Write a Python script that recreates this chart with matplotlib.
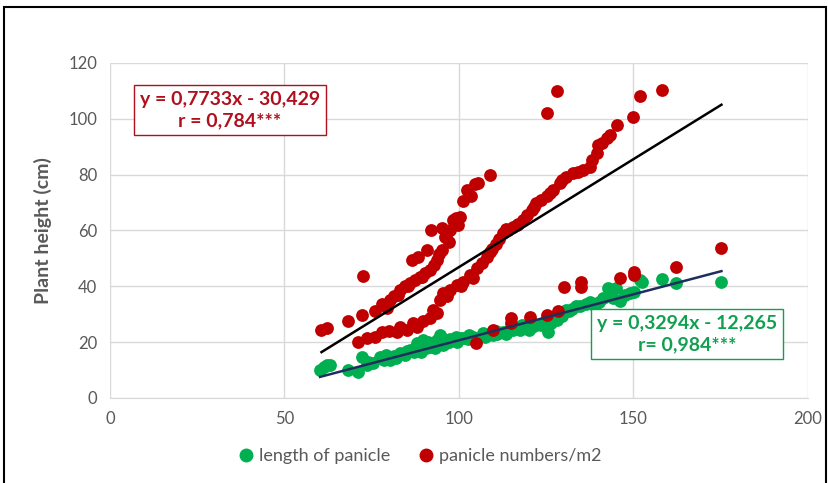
import matplotlib
matplotlib.use("Agg")
import matplotlib.pyplot as plt
from matplotlib.lines import Line2D
from matplotlib.patches import Rectangle
import numpy as np

plt.rcParams['font.family'] = ['Lato', 'DejaVu Sans']

# ---- data ----
green_x = [60.2, 61.2, 62.1, 68.3, 71.2, 72.1, 73.5, 75.5, 77.4, 78.5, 80.2, 81.5, 83.1, 84.5, 86.0,
           87.0, 87.9, 88.5, 89.8, 90.5, 91.7, 92.5, 93.6, 94.6, 95.5, 96.4, 97.5, 98.4, 99.5, 100.3,
           101.2, 102.5, 104.1, 105.5, 106.9, 108.3, 109.8, 111.0, 112.7, 114.0, 115.6, 117.5, 119.4,
           121.0, 122.2, 123.5, 125.1, 125.6, 126.5, 128.0, 129.5, 130.8, 132.5, 134.7, 136.5, 138.5,
           140.0, 141.3, 142.8, 143.3, 145.1, 146.1, 147.5, 150.2, 151.9, 152.3, 158.1, 162.2, 175.2,
           63.0, 74.0, 79.0, 82.0, 85.0, 88.0, 89.0, 91.0, 93.0, 95.0, 97.0, 99.0, 103.0, 107.5,
           110.5, 113.5, 118.0, 120.0, 124.0, 127.0, 131.5, 133.5, 137.5, 139.0, 144.0, 149.0]
green_y = [10.0, 11.0, 11.8, 10.0, 9.4, 14.8, 12.0, 12.4, 14.8, 13.5, 13.6, 15.0, 16.0, 15.5, 17.2,
           16.5, 19.6, 17.5, 20.8, 18.0, 18.4, 19.5, 20.8, 22.6, 19.0, 19.6, 21.0, 20.8, 20.0, 21.5,
           21.4, 21.0, 22.0, 21.5, 23.2, 22.5, 22.6, 23.0, 23.8, 24.0, 24.4, 24.5, 25.0,
           25.5, 26.2, 26.0, 25.0, 23.8, 27.0, 28.0, 29.5, 31.5, 32.0, 33.0, 33.5, 33.6,
           34.5, 35.7, 39.3, 37.0, 39.3, 34.6, 37.0, 38.1, 42.3, 41.7, 42.7, 41.1, 41.7,
           12.0, 13.0, 15.5, 14.5, 17.0, 18.5, 16.5, 20.0, 18.0, 21.5, 20.0, 21.8, 22.5, 22.0,
           24.0, 23.0, 26.0, 24.5, 27.0, 29.0, 31.0, 32.8, 34.5, 33.0, 36.0, 37.5]

red_x = [60.6, 62.1, 68.3, 72.1, 72.4, 75.9, 79.3, 80.2, 81.5, 83.1, 84.5, 86.0, 86.4, 87.5, 88.3,
         88.8, 90.2, 90.7, 91.7, 92.1, 92.8, 93.6, 95.0, 95.0, 96.0, 96.4, 97.4, 98.4, 99.0, 100.3,
         101.2, 102.2, 104.5, 105.5, 108.9,
         78.0, 82.5, 85.5, 89.5, 94.2, 97.0, 99.8, 103.5,
         71.2, 73.5, 75.9, 77.8, 80.0, 82.1, 83.1, 85.0, 86.9, 87.9, 89.8, 91.7, 92.6, 93.6, 94.6,
         95.5, 97.4, 99.3, 101.2, 103.2, 105.1, 106.5, 107.9, 108.9, 110.5, 111.5, 112.7, 114.0,
         115.6, 117.0, 118.4, 119.5, 120.8, 122.2, 123.5, 125.1, 127.0, 128.9, 130.8, 132.8, 135.6,
         137.5, 138.0, 139.4, 139.9, 142.3, 143.3, 145.2, 150.0, 151.9, 158.1, 125.1, 128.2,
         96.5, 100.5, 104.0, 109.5, 113.5, 116.5, 121.5, 126.0, 129.5, 134.0, 141.0,
         105.0, 109.8, 115.0, 115.0, 120.3, 125.1, 128.3, 130.2, 135.1, 135.1, 146.0, 150.1, 150.1,
         162.2, 175.2]
red_y = [24.4, 25.0, 27.5, 29.7, 43.8, 31.0, 32.2, 35.1, 36.5, 38.7, 40.0, 41.1, 49.5, 42.3, 50.6,
         43.5, 44.8, 53.0, 45.9, 60.2, 47.5, 49.5, 53.0, 60.8, 57.8, 58.4, 60.2, 63.8, 64.5, 65.0,
         70.5, 74.6, 76.5, 76.9, 79.9,
         33.5, 37.0, 40.0, 43.5, 51.5, 56.0, 62.0, 72.5,
         20.2, 21.4, 22.0, 23.8, 24.0, 23.8, 25.6, 24.4, 26.7, 25.6, 27.5, 28.6, 31.5, 30.4, 35.1,
         37.5, 38.7, 40.5, 41.7, 44.1, 46.5, 48.3, 50.6, 52.4, 55.0, 57.0, 59.0, 60.0,
         61.4, 62.5, 63.8, 65.5, 67.4, 69.8, 71.0, 72.2, 74.6, 76.9, 79.3, 80.5, 81.7,
         82.9, 85.3, 87.7, 90.7, 93.0, 94.3, 97.8, 100.8, 108.0, 110.4, 102.0, 110.1,
         36.5, 40.0, 43.0, 53.5, 60.5, 62.0, 68.5, 73.5, 78.0, 81.0, 91.5,
         19.6, 24.4, 28.6, 27.0, 28.9, 29.7, 31.3, 39.9, 41.7, 39.6, 42.9, 45.3, 44.0,
         47.0, 53.6]

red_fit = (0.7733, -30.429)
green_fit = (0.3294, -12.265)
red_label = "y = 0,7733x - 30,429\nr = 0,784***"
green_label = "y = 0,3294x - 12,265\nr= 0,984***"
series_names = ["length of panicle", "panicle numbers/m2"]
x_ticks = [0, 50, 100, 150, 200]
y_ticks = [0, 20, 40, 60, 80, 100, 120]

# ---- style ----
RED = "#C00000"
GREEN = "#00B050"
NAVY = "#1F2E5E"
GRAY = "#595959"
GRID = "#D9D9D9"

fig = plt.figure(figsize=(8.29, 4.83), dpi=100)
ax = fig.add_axes([110/829, 1-398/483, (808-110)/829, (398-63)/483])

ax.scatter(green_x, green_y, s=85, color=GREEN, zorder=3, linewidths=0)
ax.scatter(red_x, red_y, s=85, color=RED, zorder=4, linewidths=0)

gx = np.array([min(green_x), max(green_x)])
rx = np.array([min(red_x), max(red_x)])
ax.plot(rx, red_fit[0]*rx + red_fit[1], color="black", lw=1.8, zorder=5)
ax.plot(gx, green_fit[0]*gx + green_fit[1], color=NAVY, lw=1.8, zorder=5)

ax.set_xlim(0, 200)
ax.set_ylim(0, 120)
ax.set_xticks(x_ticks)
ax.set_yticks(y_ticks)
ax.grid(True, color=GRID, lw=1)
ax.set_axisbelow(True)
for s in ["top", "right", "left"]:
    ax.spines[s].set_visible(False)
ax.spines["bottom"].set_color(GRID)
ax.tick_params(length=0, colors=GRAY, labelsize=12, pad=9)
ax.set_ylabel("Plant height (cm)", color=GRAY, fontsize=14, fontweight="bold", labelpad=12)

ax.text(34.4, 103.2, red_label, color="#B0101E", fontsize=14, fontweight="bold",
        ha="center", va="center", multialignment="center", zorder=6, linespacing=1.3,
        bbox=dict(boxstyle="square,pad=0.3", fc="white", ec="#B0101E", lw=1))
ax.text(165.3, 22.9, green_label, color="#10A050", fontsize=14, fontweight="bold",
        ha="center", va="center", multialignment="center", zorder=6, linespacing=1.3,
        bbox=dict(boxstyle="square,pad=0.3", fc="white", ec="#10A050", lw=1))

handles = [Line2D([], [], ls="", marker="o", ms=9, color=GREEN),
           Line2D([], [], ls="", marker="o", ms=9, color=RED)]
leg = fig.legend(handles, series_names, loc="center", bbox_to_anchor=(0.507, 1-456/483),
                 ncol=2, frameon=False, fontsize=13, handletextpad=0.3, columnspacing=1.6,
                 handlelength=0.8)
for t in leg.get_texts():
    t.set_color(GRAY)

fig.patches.append(Rectangle((4/829, -0.05), (826-4)/829, 1-7/483+0.05, transform=fig.transFigure,
                             fill=False, ec="black", lw=1.5))

fig.savefig("out.png", dpi=100)
